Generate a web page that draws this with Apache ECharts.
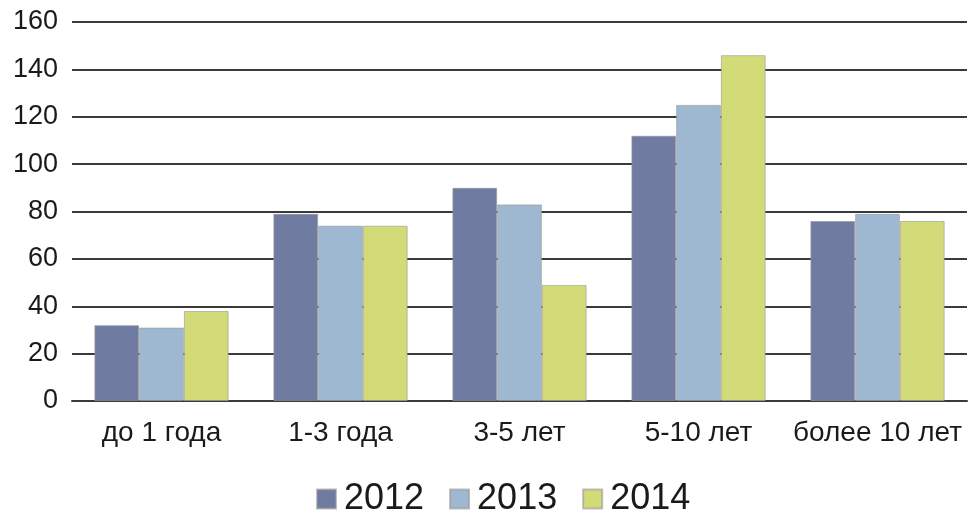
<!DOCTYPE html>
<html>
<head>
<meta charset="utf-8">
<script src="https://cdn.jsdelivr.net/npm/echarts@6/dist/echarts.min.js"></script>
<style>
  html, body { margin: 0; padding: 0; background: #fff; }
  #chart { width: 970px; height: 514px; }
</style>
</head>
<body>
<div id="chart"></div>
<script>
const categories = ['до 1 года', '1-3 года', '3-5 лет', '5-10 лет', 'более 10 лет']
const years = ['2012', '2013', '2014']
const values2012 = [32, 79, 90, 112, 76]
const values2013 = [31, 74, 83, 125, 79]
const values2014 = [38, 74, 49, 146, 76]
const colors = ['#6f7ba0', '#9fb8d1', '#d3db78']

const chart = echarts.init(document.getElementById('chart'))

const seriesData = [values2012, values2013, values2014]

chart.setOption({
  animation: false,
  color: colors,
  textStyle: { fontFamily: 'Liberation Sans, Arial, sans-serif' },
  grid: { left: 72, right: 3, top: 22, bottom: 113 },
  legend: {
    data: years,
    bottom: -8,
    left: 311,
    itemWidth: 19,
    itemHeight: 19,
    itemGap: 25,
    icon: 'rect',
    textStyle: { fontSize: 36, color: '#1a1a1a', padding: [0, 0, 0, 3] },
  },
  xAxis: {
    type: 'category',
    data: categories,
    axisLine: { lineStyle: { color: '#3a3a3a', width: 2 } },
    axisTick: { show: false },
    axisLabel: { fontSize: 28, color: '#1a1a1a', margin: 18, interval: 0 },
  },
  yAxis: {
    type: 'value',
    min: 0,
    max: 160,
    interval: 20,
    axisLine: { show: false },
    axisTick: { show: false },
    axisLabel: { fontSize: 27, color: '#1a1a1a', margin: 14 },
    splitLine: { lineStyle: { color: '#3a3a3a', width: 2 } },
  },
  series: years.map((name, i) => ({
    name,
    type: 'bar',
    data: seriesData[i],
    barGap: '0%',
    barCategoryGap: '25%',
    itemStyle: { borderColor: 'rgba(150,150,150,0.6)', borderWidth: 1 },
  })),
})
</script>
</body>
</html>
